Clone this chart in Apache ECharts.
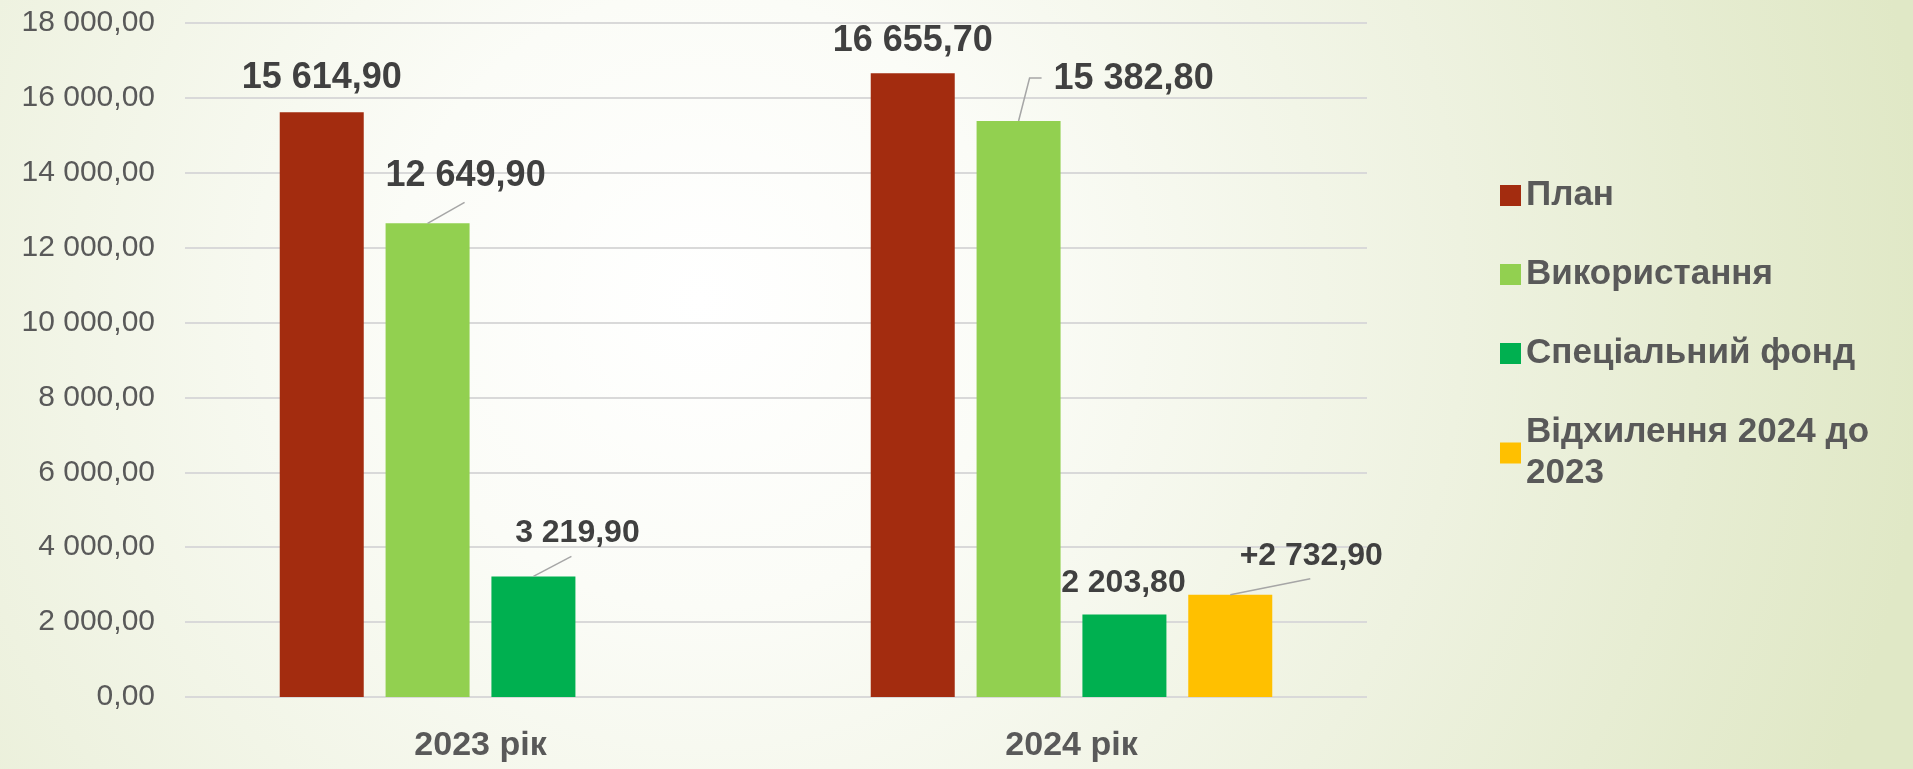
<!DOCTYPE html>
<html>
<head>
<meta charset="utf-8">
<script src="https://cdn.jsdelivr.net/npm/echarts@6/dist/echarts.min.js"></script>
<style>
    html, body { margin: 0; padding: 0; }
    #chart { width: 1913px; height: 769px; }
</style>
</head>
<body>
<div id="chart"></div>
<script>
var categories = ['2023 рік', '2024 рік'];
var seriesNames = ['План', 'Використання', 'Спеціальний фонд', 'Відхилення 2024 до 2023'];
var plan = [15614.9, 16655.7];
var usage = [12649.9, 15382.8];
var special = [3219.9, 2203.8];
var deviation = [null, 2732.9];
var yTicks = [0, 2000, 4000, 6000, 8000, 10000, 12000, 14000, 16000, 18000];

var colors = ['#a32c0f', '#92d050', '#00b050', '#ffc000'];
var values = [plan, usage, special, deviation];

// розміщення підписів (зсув відносно верху стовпця), [серія][категорія]
var labelOffsets = [
    [[0, -11], [0, -9]],
    [[38, -24], [115, -19]],
    [[44, -22], [-1, -10]],
    [null, [81, -17]]
];
var labelSizes = [36, 36, 32, 32];

// виноски від верху стовпця до підпису
var leaders = [
    { s: 1, c: 0, path: [[37, -21]] },
    { s: 2, c: 0, path: [[38, -20]] },
    { s: 1, c: 1, path: [[11, -43], [23, -43]] },
    { s: 3, c: 1, path: [[80, -16]] }
];

var barWidth = 84;
var barGapRatio = 0.26;
var barPitch = barWidth * (1 + barGapRatio);

function fmt(v) {
    var s = v.toFixed(2).split('.');
    return s[0].replace(/\B(?=(\d{3})+(?!\d))/g, ' ') + ',' + s[1];
}

var myChart = echarts.init(document.getElementById('chart'));

var barSeries = seriesNames.map(function (name, si) {
    return {
        name: name,
        type: 'bar',
        barWidth: barWidth,
        barGap: (barGapRatio * 100) + '%',
        itemStyle: { color: colors[si] },
        z: 2,
        data: values[si].map(function (v, ci) {
            if (v == null) return null;
            return {
                value: v,
                label: {
                    show: true,
                    position: 'top',
                    offset: labelOffsets[si][ci],
                    fontSize: labelSizes[si],
                    fontWeight: 'bold',
                    fontFamily: 'Liberation Sans',
                    color: '#404040',
                    formatter: function (p) {
                        return (si === 3 ? '+' : '') + fmt(p.value);
                    }
                }
            };
        })
    };
});

var leaderSeries = {
    type: 'custom',
    silent: true,
    z: 5,
    encode: { x: 0, y: 1 },
    data: leaders.map(function (l) { return [l.c, values[l.s][l.c]]; }),
    renderItem: function (params, api) {
        var l = leaders[params.dataIndex];
        var p = api.coord([api.value(0), api.value(1)]);
        var x0 = p[0] + (l.s - 1.5) * barPitch;
        var pts = [[x0, p[1]]].concat(l.path.map(function (d) {
            return [x0 + d[0], p[1] + d[1]];
        }));
        return {
            type: 'polyline',
            shape: { points: pts },
            style: { stroke: '#a6a6a6', lineWidth: 1.5, fill: null }
        };
    }
};

var option = {
    animation: false,
    backgroundColor: {
        type: 'radial',
        x: 0.366, y: 0.39, r: 1.6,
        colorStops: [
            { offset: 0, color: '#ffffff' },
            { offset: 0.25, color: '#fbfcf7' },
            { offset: 0.62, color: '#eef2e0' },
            { offset: 1, color: '#e0e8c6' }
        ]
    },
    grid: {
        left: 185,
        right: 546,
        top: 23,
        bottom: 72
    },
    legend: {
        data: seriesNames,
        orient: 'vertical',
        left: 1495,
        top: 170,
        itemWidth: 21,
        itemHeight: 21,
        itemGap: 38,
        selectedMode: false,
        icon: 'rect',
        formatter: function (name) {
            return name.replace(' до 2023', ' до\n2023');
        },
        textStyle: {
            fontFamily: 'Liberation Sans',
            fontSize: 35,
            fontWeight: 'bold',
            color: '#595959',
            lineHeight: 41
        }
    },
    xAxis: {
        type: 'category',
        data: categories,
        axisLine: { show: false },
        axisTick: { show: false },
        axisLabel: {
            margin: 32,
            fontFamily: 'Liberation Sans',
            fontSize: 34,
            fontWeight: 'bold',
            color: '#595959'
        }
    },
    yAxis: {
        type: 'value',
        min: yTicks[0],
        max: yTicks[yTicks.length - 1],
        interval: yTicks[1] - yTicks[0],
        axisLine: { show: false },
        axisTick: { show: false },
        splitLine: { lineStyle: { color: '#d9d9d9', width: 2 } },
        axisLabel: {
            margin: 30,
            fontFamily: 'Liberation Sans',
            fontSize: 30,
            color: '#595959',
            formatter: function (v) { return fmt(v); }
        }
    },
    series: barSeries.concat([leaderSeries])
};

myChart.setOption(option);
</script>
</body>
</html>
